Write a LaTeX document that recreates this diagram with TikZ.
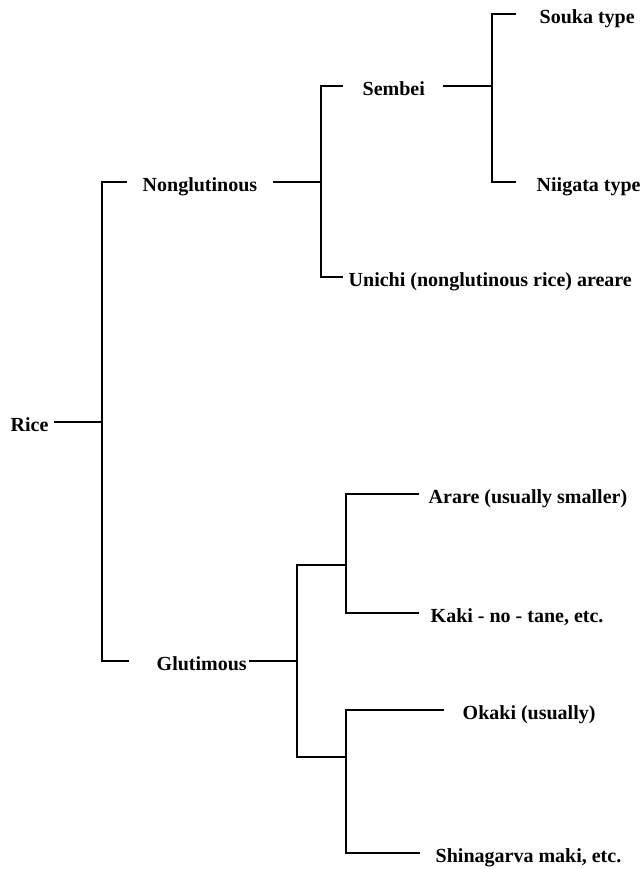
\documentclass[tikz,border=0pt]{standalone}
\usepackage{fontspec}
\setmainfont{Liberation Serif}
\begin{document}
\begin{tikzpicture}[x=1pt,y=-1pt,line width=1.4pt,
  leaf/.style={anchor=west,inner sep=0pt,text height=22pt,text depth=3pt,
    font=\fontsize{20}{24}\selectfont\bfseries}]
\useasboundingbox (0,0) rectangle (641,869);
\node(rice) at (10,422)[leaf]  {Rice};
\node(ng)   at (142,182)[leaf] {Nonglutinous};
\node(sb)   at (362,86)[leaf]  {Sembei};
\node(sk)   at (539,14)[leaf]  {Souka type};
\node(ni)   at (536,182)[leaf] {Niigata type};
\node(un)   at (348,277)[leaf] {Unichi (nonglutinous rice) areare};
\node(gl)   at (156,661)[leaf] {Glutimous};
\node(ar)   at (428,494)[leaf] {Arare (usually smaller)};
\node(kk)   at (430,613)[leaf] {Kaki - no - tane, etc.};
\node(ok)   at (462,710)[leaf] {Okaki (usually)};
\node(sh)   at (435,853)[leaf] {Shinagarva maki, etc.};
\coordinate(r0) at (102,422);
\coordinate(n0) at (321,182);
\coordinate(s0) at (492,86);
\coordinate(g0) at (297,661);
\coordinate(g1) at (346,565);
\coordinate(g2) at (346,757);
\draw ([xshift=5pt]rice.east) -- (r0);
\draw ([xshift=-15pt]ng.west) -| (r0) |- ([xshift=-27pt]gl.west);
\draw ([xshift=15pt]ng.east) -- (n0);
\draw ([xshift=-19pt]sb.west) -| (n0) |- ([xshift=-5pt]un.west);
\draw ([xshift=17pt]sb.east) -- (s0);
\draw ([xshift=-23pt]sk.west) -| (s0) |- ([xshift=-20pt]ni.west);
\draw ([xshift=2pt]gl.east) -- (g0);
\draw (g1) -| (g0) |- (g2);
\draw ([xshift=-9pt]ar.west) -| (g1) |- ([xshift=-11pt]kk.west);
\draw ([xshift=-18pt]ok.west) -| (g2) |- ([xshift=-15pt]sh.west);
\end{tikzpicture}
\end{document}
